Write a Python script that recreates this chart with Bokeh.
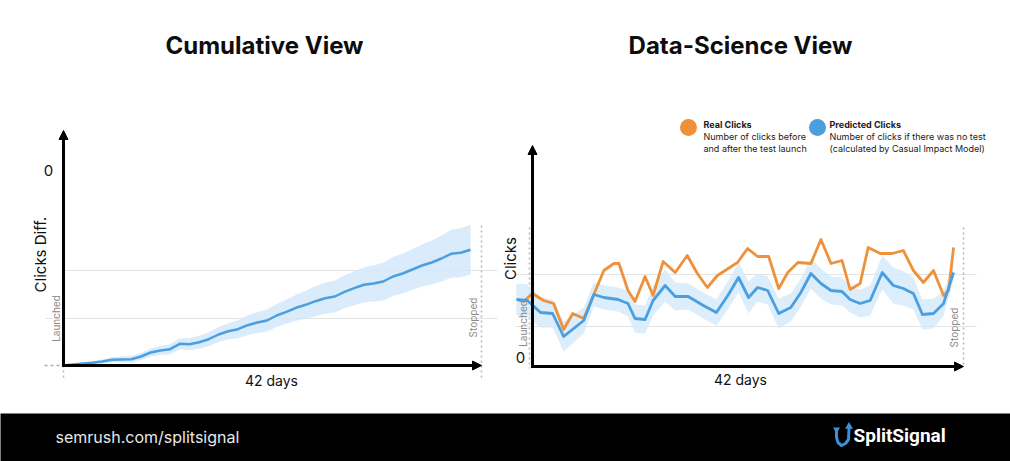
from math import pi
from bokeh.plotting import figure
from bokeh.layouts import column, row
from bokeh.models import Range1d, Label, Arrow, NormalHead, ColumnDataSource
from bokeh.embed import file_html
from bokeh.resources import INLINE

FONT = "Inter"
ORANGE = "#EF913B"
BLUE = "#4A9FE0"
BAND = "#D3E9FA"
GRID = "#E4E4E4"
DOT = "#B5B5B5"

# ---------------- data: cumulative view ----------------
cum_days = list(range(43))
cum_diff = [0, 1, 2, 2.7, 4, 5.7, 6, 6.3, 9, 13, 15, 16.3, 21.7, 21.3, 23.3, 26.3, 31, 34.3,
            36.3, 40.3, 43, 45, 50, 53.7, 57.7, 60.7, 64.3, 67.3, 69, 73.7, 77.3, 80.7, 82,
            84, 89, 92, 96, 100, 103, 107, 111.7, 112.7, 115.7]
cum_lo = [0, 0.5, 1, 1.2, 2, 3.2, 3, 3, 5.4, 9, 10.5, 11.3, 16.2, 15.3, 16.8, 19.3, 23.5, 26.3,
          27.3, 30.3, 32.5, 34, 38.5, 41.7, 44.7, 46.7, 49.3, 51.8, 53, 57.2, 60.3, 63.2, 64,
          65, 69.5, 72, 75.5, 79, 81, 84, 87.7, 88.2, 90.7]
cum_hi = [0, 1.5, 3, 4.2, 6, 8.2, 9, 9.6, 12.6, 17, 19.5, 21.3, 27.2, 27.3, 29.8, 33.3, 38.5,
          42.3, 45.3, 50.3, 53.5, 56, 61.5, 65.7, 70.7, 74.7, 79.3, 82.8, 85, 90.2, 94.3, 98.2,
          100, 103, 108.5, 112, 116.5, 121, 125, 130, 135.7, 137.2, 140.7]

# ---------------- data: data-science view ----------------
real_days = [-0.9, 0.1, 1.2, 2.2, 3.2, 4.1, 5.2, 6.2, 7.2, 8.2, 8.7, 9.6, 10.3, 11.3, 12.1,
             13.1, 14.3, 15.5, 16.5, 17.5, 18.5, 20.5, 21.5, 22.5, 23.6, 24.6, 25.5, 26.5,
             27.8, 28.8, 29.8, 30.9, 31.7, 32.7, 33.5, 34.7, 35.9, 37.0, 38.0, 39.0, 40.0,
             41.0, 41.5, 42.0]
real_clicks = [64, 73, 66, 63, 37, 53, 48, 72, 96, 103, 103, 76, 65, 90, 71, 105, 94, 111, 93,
               79, 91, 104, 118, 110, 110, 78, 94, 104, 103, 127, 103, 106, 77, 83, 119, 113,
               113, 116, 96, 84, 96, 71, 76, 119]

pred_days = [-1.5, -0.4, 0.9, 2.1, 3.2, 4.2, 5.2, 6.2, 7.2, 8.6, 9.6, 10.3, 11.3, 12.1, 13.3,
             14.3, 15.6, 17.1, 18.4, 19.6, 20.6, 21.6, 22.5, 23.5, 24.6, 25.8, 26.8, 27.8,
             28.8, 29.8, 30.9, 31.7, 32.7, 33.7, 34.9, 36.0, 37.0, 38.0, 38.9, 40.0, 41.0, 42.0]
pred_clicks = [67, 66, 54, 53, 30, 38, 46, 72, 69, 67, 63, 48, 47, 66, 81, 70, 70, 61, 54, 72,
               89, 69, 79, 76, 53, 59, 74, 93, 83, 76, 75, 67, 63, 66, 94, 81, 78, 73, 52, 53,
               63, 94]
pred_lo = [51, 50, 39, 39, 15, 24, 33, 60, 57, 55, 50, 34, 33, 51, 65, 56, 57, 48, 41, 58,
           74, 53, 65, 62, 38, 45, 60, 78, 68, 62, 61, 54, 49, 51, 77, 63, 61, 57, 37, 38, 51, 86]
pred_hi = [83, 82, 69, 67, 45, 52, 59, 84, 81, 79, 76, 62, 61, 81, 97, 84, 83, 74, 67, 86,
           104, 85, 93, 90, 68, 73, 88, 108, 98, 90, 89, 80, 77, 81, 111, 99, 95, 89, 67, 68, 75, 102]

titles = ["Cumulative View", "Data-Science View"]
x_label = "42 days"
legend_titles = ["Real Clicks", "Predicted Clicks"]
legend_desc = [["Number of clicks before", "and after the test launch"],
               ["Number of clicks if there was no test", "(calculated by Casual Impact Model)"]]

H = 413
WL, WR = 498, 512
RX = WL  # page x where the right figure starts


def base_fig(w, xr, yr):
    p = figure(width=w, height=H, x_range=Range1d(*xr), y_range=Range1d(*yr),
               output_backend="svg", toolbar_location=None, min_border=0,
               x_axis_location=None, y_axis_location=None)
    p.grid.visible = False
    p.outline_line_color = None
    p.background_fill_color = "white"
    p.border_fill_color = "white"
    return p


def label(p, x, y, text, size="15px", color="#111111", style="normal", align="center",
          angle=0, font=FONT):
    p.add_layout(Label(x=x, y=y, text=text, text_font=font, text_font_size=size,
                       text_color=color, text_font_style=style, text_align=align,
                       text_baseline="middle", angle=angle))


def axis_arrow(p, x0, y0, x1, y1):
    p.add_layout(Arrow(end=NormalHead(size=9, fill_color="black", line_color="black",
                                      line_width=1),
                       x_start=x0, y_start=y0, x_end=x1, y_end=y1,
                       line_width=3, line_color="black"))


# ---------------- left: cumulative ----------------
LPX = 9.69  # px per day
left = base_fig(WL, (-63 / LPX, (WL - 63) / LPX), (-(H - 365), 365))
lfx = lambda px: (px - 63) / LPX
lfy = lambda py: 365 - py

for gy, gx0 in ((95, lfx(63)), (47, lfx(45))):
    left.segment(x0=[gx0], y0=[gy], x1=[lfx(497)], y1=[gy], line_color=GRID, line_width=1)
left.segment(x0=[lfx(481)], y0=[lfy(225)], x1=[lfx(481)], y1=[lfy(380)],
             line_color=DOT, line_width=1.5, line_dash="2 3")
left.segment(x0=[0], y0=[0], x1=[0], y1=[lfy(380)], line_color=DOT, line_width=1.5,
             line_dash="2 3")
left.segment(x0=[lfx(44)], y0=[0], x1=[0], y1=[0], line_color="#9ab0c4", line_width=1.5,
             line_dash="3 3")

src_c = ColumnDataSource(dict(x=cum_days, y=cum_diff, lo=cum_lo, hi=cum_hi))
left.varea(x="x", y1="lo", y2="hi", source=src_c, fill_color=BAND, fill_alpha=0.85)
left.line(x="x", y="y", source=src_c, line_color=BLUE, line_width=2.5, line_join="round")

axis_arrow(left, 0, -1.5, 0, lfy(130))
axis_arrow(left, -0.15, 0, lfx(481), 0)

label(left, lfx(264), lfy(45), titles[0], size="24px", style="bold", color="#0d0d0d")
label(left, lfx(48), lfy(170), "0", size="15px")
label(left, lfx(40), lfy(252), "Clicks  Diff.", size="15px", angle=pi / 2)
label(left, lfx(55), lfy(318), "Launched", size="10px", color="#8a8a8a", angle=pi / 2)
label(left, lfx(472), lfy(317), "Stopped", size="10px", color="#8a8a8a", angle=pi / 2)
label(left, lfx(271), lfy(380), x_label, size="14px")

# ---------------- right: data-science ----------------
RPX = 10.05
rx0 = 531 - RX
right = base_fig(WR, (-rx0 / RPX, (WR - rx0) / RPX), (-(H - 366), 366))
rfx = lambda px: (px - 531) / RPX
rfy = lambda py: 366 - py

for gy in (rfy(274), rfy(326)):
    right.segment(x0=[rfx(515)], y0=[gy], x1=[rfx(976)], y1=[gy], line_color=GRID,
                  line_width=1)
right.segment(x0=[rfx(963)], y0=[rfy(227)], x1=[rfx(963)], y1=[rfy(366)],
              line_color=DOT, line_width=1.5, line_dash="2 3")
right.segment(x0=[rfx(529)], y0=[rfy(227)], x1=[rfx(529)], y1=[rfy(368)],
              line_color=DOT, line_width=1.5, line_dash="2 3")

src_p = ColumnDataSource(dict(x=pred_days, y=pred_clicks, lo=pred_lo, hi=pred_hi))
src_r = ColumnDataSource(dict(x=real_days, y=real_clicks))
right.varea(x="x", y1="lo", y2="hi", source=src_p, fill_color=BAND, fill_alpha=0.8)
right.line(x="x", y="y", source=src_r, line_color=ORANGE, line_width=2.8, line_join="round")
right.line(x="x", y="y", source=src_p, line_color=BLUE, line_width=2.8, line_join="round")

axis_arrow(right, 0.1, -1.5, 0.1, rfy(145))
axis_arrow(right, 0, 0, rfx(963), 0)

label(right, rfx(740), rfy(45), titles[1], size="24px", style="bold", color="#0d0d0d")
label(right, rfx(520), rfy(357), "0", size="15px")
label(right, rfx(510), rfy(258), "Clicks", size="15px", angle=pi / 2)
label(right, rfx(522), rfy(323), "Launched", size="10px", color="#8a8a8a", angle=pi / 2)
label(right, rfx(953), rfy(327), "Stopped", size="10px", color="#8a8a8a", angle=pi / 2)
label(right, rfx(740), rfy(379), x_label, size="14px")

# legend
right.scatter(x=[rfx(688), rfx(817)], y=[rfy(127), rfy(127)], size=17,
              color=[ORANGE, BLUE], line_color=None)
for i, lx in enumerate((703, 829)):
    label(right, rfx(lx), rfy(124), legend_titles[i], size="9px", style="bold",
          align="left", color="#1a1a1a")
    for j, t in enumerate(legend_desc[i]):
        label(right, rfx(lx), rfy(136 + 12 * j), t, size="9px", align="left",
              color="#1a1a1a")

# ---------------- footer ----------------
foot = figure(width=WL + WR, height=461 - H, x_range=Range1d(0, WL + WR),
              y_range=Range1d(461, H),
              output_backend="svg", toolbar_location=None, min_border=0,
              x_axis_location=None, y_axis_location=None)
foot.grid.visible = False
foot.outline_line_color = None
foot.background_fill_color = "black"
foot.border_fill_color = "black"
foot.add_layout(Label(x=55, y=436, text="semrush.com/splitsignal", text_font=FONT,
                      text_font_size="16px", text_color="#e8e8e8", text_baseline="middle"))
foot.add_layout(Label(x=853, y=435, text="SplitSignal", text_font="Roboto",
                      text_font_size="19px", text_font_style="bold", text_color="white",
                      text_baseline="middle"))
foot.line(x=[836, 836, 837.5, 841, 845, 848, 848.5], y=[430, 437, 442, 445, 443, 439, 427],
          line_color="#3C8FDB", line_width=3, line_join="round")
foot.scatter(x=[848.5], y=[426], marker="triangle", size=8, color="#3C8FDB", line_color=None)
foot.scatter(x=[836], y=[429], marker="inverted_triangle", size=7, color="#3C8FDB",
             line_color=None)

layout = column(row(left, right), foot)
open("out.html", "w").write(file_html(layout, INLINE))
